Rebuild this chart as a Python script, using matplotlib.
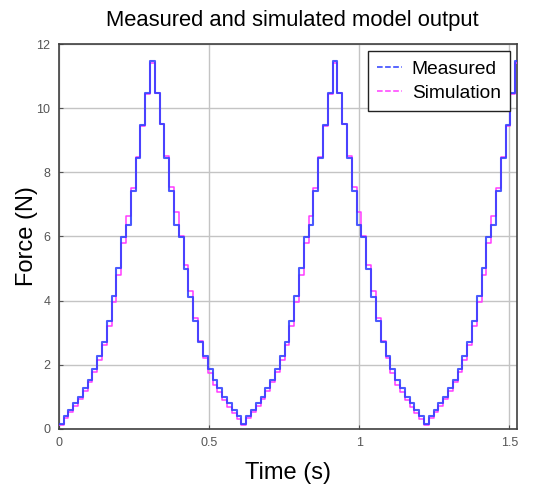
import numpy as np
import matplotlib
matplotlib.use("Agg")
import matplotlib.pyplot as plt
from matplotlib.lines import Line2D

plt.rcParams['font.family'] = ['Liberation Sans', 'DejaVu Sans']

# Step duration (s) of the staircase signal
dt = 0.016

measured = [
    0.15, 0.40, 0.60, 0.79, 1.00, 1.26, 1.52, 1.88, 2.27, 2.70, 3.37, 4.14, 5.03, 5.99, 6.35, 7.42, 8.44, 9.47, 10.47, 11.47,
    10.47, 9.50, 8.46, 7.41, 6.35, 5.97, 4.99, 4.12, 3.37, 2.72, 2.27, 1.88, 1.52, 1.26, 1.00, 0.79, 0.60, 0.40,
    0.15, 0.40, 0.60, 0.79, 1.00, 1.26, 1.52, 1.88, 2.27, 2.70, 3.37, 4.14, 5.03, 5.99, 6.35, 7.42, 8.44, 9.47, 10.47, 11.47,
    10.47, 9.50, 8.46, 7.41, 6.35, 5.97, 4.99, 4.12, 3.37, 2.72, 2.27, 1.88, 1.52, 1.26, 1.00, 0.79, 0.60, 0.40,
    0.15, 0.40, 0.60, 0.79, 1.00, 1.26, 1.52, 1.88, 2.27, 2.70, 3.37, 4.14, 5.03, 5.99, 6.35, 7.42, 8.44, 9.47, 10.47, 11.47,
    11.47,
]

simulation = [
    0.12, 0.33, 0.52, 0.70, 0.93, 1.18, 1.45, 1.78, 2.15, 2.60, 3.22, 3.95, 4.80, 5.80, 6.63, 7.52, 8.47, 9.45, 10.44, 11.40,
    10.47, 9.50, 8.52, 7.55, 6.75, 6.00, 5.12, 4.30, 3.45, 2.75, 2.20, 1.75, 1.38, 1.15, 0.90, 0.68, 0.50, 0.30,
    0.12, 0.33, 0.52, 0.70, 0.93, 1.18, 1.45, 1.78, 2.15, 2.60, 3.22, 3.95, 4.80, 5.80, 6.63, 7.52, 8.47, 9.45, 10.44, 11.40,
    10.47, 9.50, 8.52, 7.55, 6.75, 6.00, 5.12, 4.30, 3.45, 2.75, 2.20, 1.75, 1.38, 1.15, 0.90, 0.68, 0.50, 0.30,
    0.12, 0.33, 0.52, 0.70, 0.93, 1.18, 1.45, 1.78, 2.15, 2.60, 3.22, 3.95, 4.80, 5.80, 6.63, 7.52, 8.47, 9.45, 10.44, 11.40,
    11.40,
]

x_ticks = [0, 0.5, 1, 1.5]
x_tick_labels = ["0", "0.5", "1", "1.5"]
y_ticks = [0, 2, 4, 6, 8, 10, 12]
y_tick_labels = ["0", "2", "4", "6", "8", "10", "12"]

t = np.arange(len(measured)) * dt

fig = plt.figure(figsize=(5.56, 4.84), dpi=100)
ax = fig.add_axes([0.1056, 0.114, 0.8244, 0.795])

blue = '#2a3cff'
magenta = '#ff3cff'

ax.step(t, simulation, where='post', color=magenta, lw=1.1, zorder=3)
ax.step(t, measured, where='post', color=blue, lw=1.5, alpha=0.85, zorder=4)

ax.set_xlim(0, 1.526)
ax.set_ylim(0, 12)
ax.set_xticks(x_ticks)
ax.set_xticklabels(x_tick_labels)
ax.set_yticks(y_ticks)
ax.set_yticklabels(y_tick_labels)
ax.grid(True, color='#c4c4c4', lw=1.0)
ax.set_axisbelow(True)
ax.tick_params(direction='in', length=3, labelsize=9, colors='#555555', labelcolor='#555555', pad=6)
for s in ax.spines.values():
    s.set_color('#404040')
    s.set_linewidth(1.2)

ax.set_title("Measured and simulated model output", fontsize=15.8, pad=13, x=0.51)
ax.set_xlabel("Time (s)", fontsize=17, labelpad=9)
ax.set_ylabel("Force (N)", fontsize=17, labelpad=-1)

handles = [Line2D([0], [0], color=blue, ls='--', lw=1.1),
           Line2D([0], [0], color=magenta, ls='--', lw=1.1)]
leg = ax.legend(handles, ["Measured", "Simulation"], loc='upper right',
                fontsize=13.8, frameon=True, fancybox=False, edgecolor='#222222',
                handlelength=1.3, handletextpad=0.5, borderpad=0.5,
                labelspacing=0.35, borderaxespad=0.35, framealpha=1)
leg.get_frame().set_linewidth(1.0)

fig.savefig("out.png", dpi=100)
